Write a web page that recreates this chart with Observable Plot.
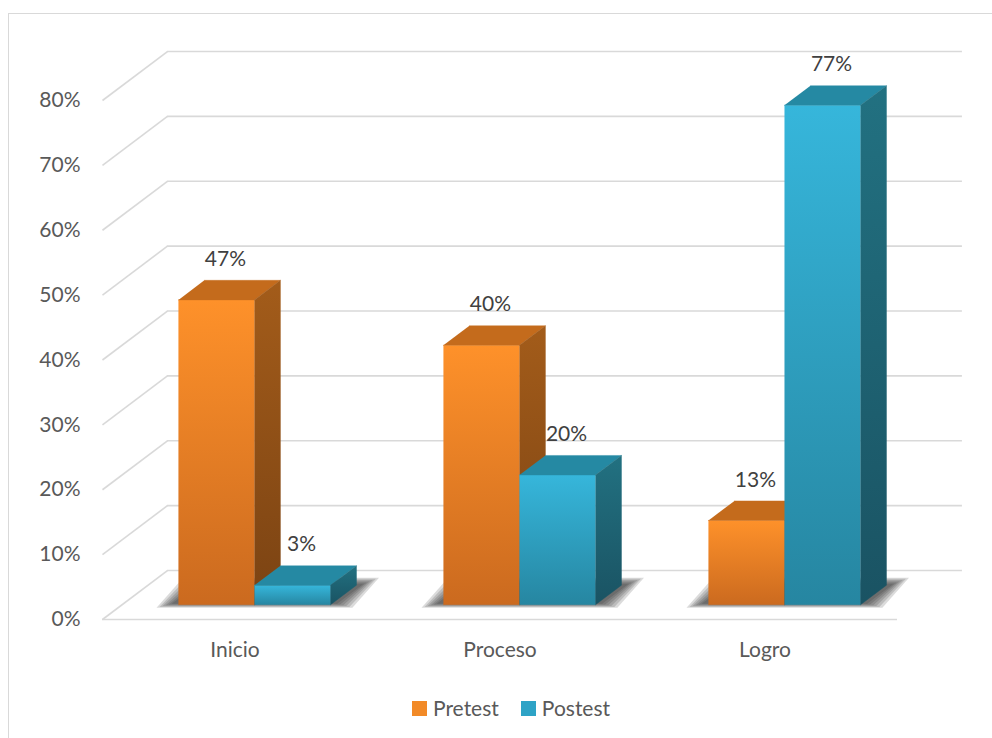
<!DOCTYPE html>
<html>
<head>
<meta charset="utf-8">
<script src="https://cdn.jsdelivr.net/npm/d3@7"></script>
<script src="https://cdn.jsdelivr.net/npm/@observablehq/plot@0.6"></script>
<style>
  html, body { margin: 0; padding: 0; background: #fff; }
  body { width: 992px; height: 738px; overflow: hidden; position: relative; font-family: Lato, "Noto Sans", sans-serif; }
  #frame { position: absolute; left: 8px; top: 13px; width: 1000px; height: 760px; border: 1.5px solid #d9d9d9; box-sizing: border-box; }
  #chart { position: absolute; left: 0; top: 0; }
  #legend { position: absolute; left: 412px; top: 695px; font-family: Lato, sans-serif; font-size: 21px; color: #595959; line-height: 26px; }
  #legend * { font-family: Lato, sans-serif !important; font-size: 21px !important; }
  #legend > div, #legend > figure { margin: 0 !important; display: flex !important; align-items: center; min-height: 26px; }
  #legend span { margin-right: 22px !important; display: inline-flex !important; align-items: center; }
  #legend svg { margin-right: 6px !important; }
</style>
</head>
<body>
<svg width="0" height="0" style="position:absolute">
  <defs>
    <linearGradient id="gPreFront" x1="0" y1="0" x2="0" y2="1">
      <stop offset="0" stop-color="#fe912a"/><stop offset="1" stop-color="#cb6a1f"/>
    </linearGradient>
    <linearGradient id="gPreSide" x1="0" y1="0" x2="0" y2="1">
      <stop offset="0" stop-color="#a35c1a"/><stop offset="1" stop-color="#7b4313"/>
    </linearGradient>
    <linearGradient id="gPreTop" x1="0" y1="0" x2="0" y2="1">
      <stop offset="0" stop-color="#c46b1c"/><stop offset="1" stop-color="#c46b1c"/>
    </linearGradient>
    <linearGradient id="gPostFront" x1="0" y1="0" x2="0" y2="1">
      <stop offset="0" stop-color="#36b6db"/><stop offset="1" stop-color="#2686a1"/>
    </linearGradient>
    <linearGradient id="gPostSide" x1="0" y1="0" x2="0" y2="1">
      <stop offset="0" stop-color="#227181"/><stop offset="1" stop-color="#1a5363"/>
    </linearGradient>
    <linearGradient id="gPostTop" x1="0" y1="0" x2="0" y2="1">
      <stop offset="0" stop-color="#2589a3"/><stop offset="1" stop-color="#2589a3"/>
    </linearGradient>
  </defs>
</svg>
<div id="frame"></div>
<div id="chart"></div>
<div id="legend"></div>
<script>
// ---- data ----
const categories = ["Inicio", "Proceso", "Logro"];
const series = ["Pretest", "Postest"];
const pretest = [0.47, 0.40, 0.13];
const postest = [0.03, 0.20, 0.77];
const yTicks = [0, 0.1, 0.2, 0.3, 0.4, 0.5, 0.6, 0.7, 0.8];

// ---- styling / geometry (not data) ----
const fills = {
  Pretest: {front: "url(#gPreFront)", side: "url(#gPreSide)", top: "url(#gPreTop)", swatch: "#f28a27"},
  Postest: {front: "url(#gPostFront)", side: "url(#gPostSide)", top: "url(#gPostTop)", swatch: "#2ea3c6"}
};
const BW = 0.287;          // bar width in category units
const DEPTH_X = 0.245;     // full-depth shift in x units
const DEPTH_Y = 0.0755;    // full-depth shift in y units
const D0 = 0.3, D1 = 0.7;  // bar depth span
const P = (x, y, d) => ({x: x + d * DEPTH_X, y: y + d * DEPTH_Y});
const fmt = d3.format(".0%");
const gridColor = "#d9d9d9";

const bars = [];
categories.forEach((c, i) => {
  [pretest, postest].forEach((vals, s) => {
    const x1 = s === 0 ? i - BW : i;
    bars.push({cat: c, i, series: series[s], x1, x2: x1 + BW, v: vals[i]});
  });
});

const marks = [];
// back wall gridlines
marks.push(Plot.ruleY(yTicks, {y: d => d + DEPTH_Y, x1: () => -0.5 + DEPTH_X, x2: () => 2.5 + DEPTH_X, stroke: gridColor, strokeWidth: 1.6}));
// side wall diagonals
marks.push(Plot.link(yTicks, {x1: () => -0.5, y1: d => d, x2: () => -0.5 + DEPTH_X, y2: d => d + DEPTH_Y, stroke: gridColor, strokeWidth: 1.6}));
// front floor edge
marks.push(Plot.ruleY([0], {x1: () => -0.5, x2: () => 2.5, stroke: gridColor, strokeWidth: 1.6}));

// soft shadows: layered footprints on the floor
const EX = 0.0115, EY = 0.0047; // ~3px in x / y units
categories.forEach((c, i) => {
  for (let k = 5; k >= 0; k--) {
    const a = i - BW - 0.03 - k * EX, b = i + BW + 0.02 + k * EX;
    const yf = -k * EY * 0.25, yb = k * EY * 0.4;
    const poly = [P(a, yf, D0 + 0.02), P(b, yf, D0 + 0.02), P(b, yb, D1 + 0.03), P(a, yb, D1 + 0.03)];
    marks.push(Plot.line(poly, {x: "x", y: "y", fill: "#1e1e1e", fillOpacity: 0.16, stroke: "none"}));
  }
});

// bars (painter's order)
bars.forEach(b => {
  const f = fills[b.series];
  const front = [P(b.x1, 0, D0), P(b.x2, 0, D0), P(b.x2, b.v, D0), P(b.x1, b.v, D0)];
  const top = [P(b.x1, b.v, D0), P(b.x2, b.v, D0), P(b.x2, b.v, D1), P(b.x1, b.v, D1)];
  const side = [P(b.x2, 0, D0), P(b.x2, 0, D1), P(b.x2, b.v, D1), P(b.x2, b.v, D0)];
  marks.push(Plot.line(front, {x: "x", y: "y", fill: f.front, stroke: f.front, strokeWidth: 0.4}));
  marks.push(Plot.line(top, {x: "x", y: "y", fill: f.top, stroke: f.top, strokeWidth: 0.4}));
  marks.push(Plot.line(side, {x: "x", y: "y", fill: f.side, stroke: f.side, strokeWidth: 0.4}));
});

// data labels
marks.push(Plot.text(bars, {
  x: d => (d.x1 + d.x2) / 2 + D0 * DEPTH_X,
  y: d => d.v + D1 * DEPTH_Y,
  text: d => fmt(d.v), dx: 9, dy: -21, fontSize: 21, fill: "#404040"
}));
// y tick labels
marks.push(Plot.text(yTicks, {x: () => -0.5, y: d => d, text: d => fmt(d), textAnchor: "end", dx: -22, fontSize: 21, fill: "#595959"}));
// category labels
marks.push(Plot.text(categories, {x: (d, i) => i, y: () => 0, text: d => d, dy: 31, fontSize: 21, fill: "#595959"}));

const chart = Plot.plot({
  width: 992,
  height: 690,
  marginLeft: 102,
  marginRight: 95,
  marginTop: 100,
  marginBottom: 71,
  style: {fontFamily: "Lato, 'Noto Sans', sans-serif", fontSize: "21px", background: "transparent", overflow: "visible"},
  x: {domain: [-0.5, 2.5], axis: null},
  y: {domain: [0, 0.8], axis: null},
  marks
});
document.getElementById("chart").appendChild(chart);

const legend = Plot.legend({
  color: {type: "ordinal", domain: series, range: series.map(s => fills[s].swatch)},
  swatchSize: 15,
  style: {fontSize: "21px", fontFamily: "Lato, sans-serif", color: "#595959"}
});
document.getElementById("legend").appendChild(legend);
</script>
</body>
</html>
